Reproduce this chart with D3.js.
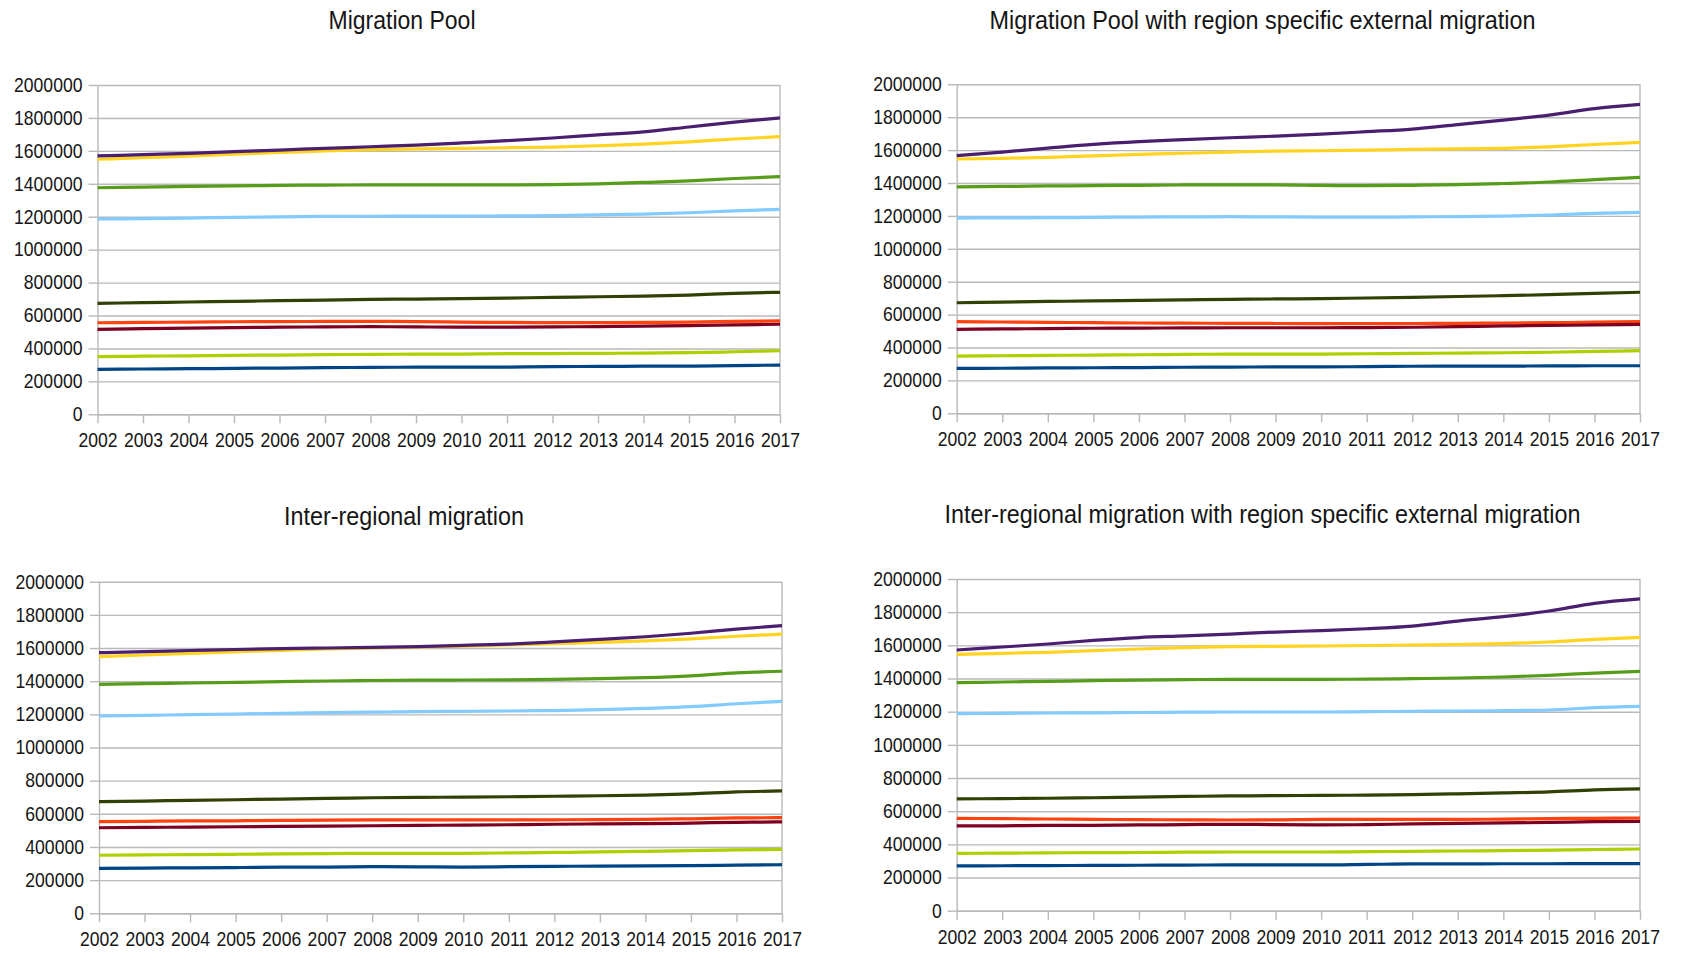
<!DOCTYPE html>
<html>
<head>
<meta charset="utf-8">
<script src="https://cdn.jsdelivr.net/npm/d3@7"></script>
<style>
  body { margin: 0; background: #fff; }
  svg { display: block; }
  text { font-family: "Liberation Sans", Arial, sans-serif; fill: #151515; }
</style>
</head>
<body>
<svg id="chart" width="1681" height="955"></svg>
<script>
// Years on the x axis
const years = [2002, 2003, 2004, 2005, 2006, 2007, 2008, 2009, 2010, 2011, 2012, 2013, 2014, 2015, 2016, 2017];

// Y axis tick values
const yTicks = [0, 200000, 400000, 600000, 800000, 1000000, 1200000, 1400000, 1600000, 1800000, 2000000];

// Series colours, in drawing order
const seriesColors = ["#004586", "#ff420e", "#ffd320", "#579d1c", "#7e0021", "#83caff", "#314004", "#aecf00", "#4b1f6f"];

// Panel titles
const titles = [
  "Migration Pool",
  "Migration Pool with region specific external migration",
  "Inter-regional migration",
  "Inter-regional migration with region specific external migration"
];

// Population per region, one row per series (same order as seriesColors)
const migrationPool = [
  [273000, 275000, 277000, 279000, 281000, 283000, 285000, 286000, 286000, 287000, 289000, 291000, 292000, 293000, 296000, 299000],
  [556000, 558000, 560000, 562000, 563000, 564000, 564000, 563000, 560000, 558000, 557000, 557000, 558000, 560000, 564000, 567000],
  [1549000, 1558000, 1568000, 1580000, 1590000, 1600000, 1608000, 1612000, 1615000, 1619000, 1623000, 1631000, 1641000, 1655000, 1672000, 1686000],
  [1376000, 1380000, 1384000, 1387000, 1390000, 1392000, 1393000, 1394000, 1393000, 1393000, 1395000, 1400000, 1408000, 1418000, 1432000, 1443000],
  [516000, 520000, 523000, 526000, 529000, 531000, 532000, 531000, 529000, 529000, 531000, 533000, 536000, 539000, 543000, 547000],
  [1186000, 1189000, 1192000, 1196000, 1199000, 1202000, 1203000, 1204000, 1204000, 1205000, 1207000, 1211000, 1216000, 1224000, 1236000, 1245000],
  [674000, 678000, 682000, 686000, 690000, 694000, 698000, 700000, 702000, 706000, 710000, 714000, 718000, 724000, 735000, 741000],
  [350000, 353000, 355000, 358000, 360000, 362000, 364000, 365000, 366000, 368000, 369000, 370000, 372000, 374000, 380000, 386000],
  [1569000, 1577000, 1585000, 1595000, 1605000, 1615000, 1625000, 1635000, 1648000, 1662000, 1678000, 1697000, 1715000, 1745000, 1775000, 1800000]
];

const migrationPoolExternal = [
  [273000, 274000, 276000, 277000, 278000, 280000, 281000, 282000, 282000, 284000, 286000, 287000, 287000, 288000, 289000, 289000],
  [557000, 555000, 553000, 551000, 549000, 548000, 547000, 546000, 545000, 545000, 546000, 547000, 549000, 551000, 554000, 557000],
  [1546000, 1550000, 1556000, 1565000, 1574000, 1581000, 1588000, 1594000, 1596000, 1600000, 1604000, 1607000, 1611000, 1620000, 1634000, 1647000],
  [1376000, 1379000, 1382000, 1384000, 1386000, 1388000, 1388000, 1388000, 1385000, 1384000, 1386000, 1390000, 1397000, 1406000, 1421000, 1434000],
  [510000, 513000, 515000, 517000, 518000, 519000, 520000, 520000, 520000, 521000, 523000, 527000, 531000, 534000, 537000, 541000],
  [1187000, 1188000, 1189000, 1191000, 1193000, 1194000, 1195000, 1194000, 1192000, 1192000, 1194000, 1196000, 1199000, 1205000, 1215000, 1222000],
  [672000, 676000, 680000, 683000, 686000, 690000, 693000, 695000, 697000, 701000, 705000, 710000, 715000, 721000, 729000, 736000],
  [348000, 350000, 352000, 354000, 356000, 358000, 360000, 360000, 360000, 362000, 364000, 366000, 368000, 371000, 376000, 381000],
  [1566000, 1588000, 1612000, 1635000, 1652000, 1664000, 1675000, 1685000, 1697000, 1712000, 1728000, 1755000, 1782000, 1813000, 1852000, 1878000]
];

const interRegional = [
  [271000, 273000, 274000, 276000, 278000, 279000, 281000, 280000, 279000, 281000, 283000, 285000, 286000, 287000, 290000, 293000],
  [553000, 555000, 557000, 558000, 560000, 562000, 563000, 563000, 563000, 563000, 564000, 565000, 567000, 570000, 575000, 577000],
  [1548000, 1558000, 1568000, 1577000, 1586000, 1594000, 1600000, 1606000, 1612000, 1619000, 1627000, 1634000, 1643000, 1655000, 1671000, 1684000],
  [1381000, 1385000, 1389000, 1393000, 1397000, 1401000, 1404000, 1406000, 1407000, 1408000, 1411000, 1415000, 1421000, 1432000, 1450000, 1460000],
  [516000, 518000, 520000, 522000, 524000, 526000, 528000, 530000, 532000, 534000, 537000, 539000, 541000, 544000, 549000, 551000],
  [1190000, 1194000, 1198000, 1202000, 1206000, 1210000, 1213000, 1216000, 1218000, 1220000, 1223000, 1228000, 1236000, 1246000, 1264000, 1278000],
  [673000, 677000, 681000, 685000, 689000, 693000, 697000, 699000, 701000, 703000, 706000, 709000, 713000, 720000, 732000, 738000],
  [350000, 352000, 354000, 356000, 358000, 360000, 362000, 362000, 362000, 364000, 367000, 370000, 374000, 378000, 382000, 386000],
  [1572000, 1578000, 1585000, 1591000, 1596000, 1600000, 1604000, 1609000, 1616000, 1624000, 1637000, 1652000, 1668000, 1689000, 1714000, 1735000]
];

const interRegionalExternal = [
  [270000, 271000, 272000, 273000, 274000, 275000, 276000, 276000, 276000, 279000, 282000, 282000, 283000, 283000, 284000, 284000],
  [557000, 555000, 553000, 551000, 549000, 548000, 547000, 548000, 551000, 551000, 551000, 551000, 552000, 555000, 557000, 559000],
  [1546000, 1552000, 1558000, 1568000, 1578000, 1586000, 1592000, 1594000, 1596000, 1599000, 1602000, 1605000, 1610000, 1620000, 1636000, 1648000],
  [1375000, 1379000, 1383000, 1387000, 1390000, 1393000, 1395000, 1395000, 1395000, 1396000, 1399000, 1403000, 1409000, 1419000, 1433000, 1443000],
  [511000, 512000, 514000, 515000, 517000, 519000, 521000, 519000, 517000, 519000, 523000, 526000, 529000, 532000, 537000, 539000],
  [1188000, 1190000, 1192000, 1193000, 1195000, 1197000, 1198000, 1198000, 1198000, 1200000, 1202000, 1204000, 1206000, 1210000, 1224000, 1232000],
  [674000, 676000, 678000, 681000, 685000, 689000, 692000, 694000, 695000, 697000, 700000, 705000, 710000, 716000, 728000, 734000],
  [346000, 347000, 349000, 350000, 351000, 353000, 354000, 354000, 354000, 356000, 358000, 360000, 362000, 365000, 369000, 372000],
  [1572000, 1590000, 1608000, 1630000, 1647000, 1657000, 1668000, 1680000, 1689000, 1700000, 1716000, 1746000, 1773000, 1807000, 1853000, 1880000]
];

// Panel layout: plot rectangle plus title placement
const panels = [
  { data: migrationPool,         title: titles[0], x0: 97.5,  x1: 780,  yTop: 85,    yBot: 414.3, tx: 402,    ty: 28.5,  tw: 147 },
  { data: migrationPoolExternal, title: titles[1], x0: 956.7, x1: 1640, yTop: 84.3,  yBot: 413.3, tx: 1262.5, ty: 28.5,  tw: 546 },
  { data: interRegional,         title: titles[2], x0: 99,    x1: 782,  yTop: 581.7, yBot: 913.3, tx: 404,    ty: 524.5, tw: 240 },
  { data: interRegionalExternal, title: titles[3], x0: 956.7, x1: 1640, yTop: 579,   yBot: 910.7, tx: 1262.5, ty: 522.5, tw: 636 }
];

const svg = d3.select("#chart");
const gridColor = "#b9b9b9";
const stretch = 1.12;       // glyphs are drawn slightly taller than wide
const tickFont = 17.6;

panels.forEach(p => {
  const x = d3.scalePoint().domain(years).range([p.x0, p.x1]);
  const y = d3.scaleLinear().domain([0, 2000000]).range([p.yBot, p.yTop]);
  const g = svg.append("g");

  // Horizontal gridlines
  g.append("g")
    .attr("transform", `translate(${p.x0},0)`)
    .call(d3.axisLeft(y).tickValues(yTicks).tickSize(-(p.x1 - p.x0)).tickFormat(""))
    .call(a => a.select(".domain").remove())
    .call(a => a.selectAll("line").attr("stroke", gridColor).attr("stroke-width", 1.4));

  // Right border of the plot area
  g.append("line")
    .attr("x1", p.x1).attr("x2", p.x1).attr("y1", p.yTop).attr("y2", p.yBot)
    .attr("stroke", gridColor).attr("stroke-width", 1.4);

  // Y axis
  g.append("g")
    .attr("transform", `translate(${p.x0},0)`)
    .call(d3.axisLeft(y).tickValues(yTicks).tickSize(9).tickSizeOuter(0).tickPadding(6).tickFormat(d3.format("d")))
    .call(a => a.select(".domain").attr("stroke", gridColor).attr("stroke-width", 1.4))
    .call(a => a.selectAll("line").attr("stroke", gridColor).attr("stroke-width", 1.4))
    .call(a => a.selectAll("text")
      .attr("font-size", tickFont)
      .attr("font-family", '"Liberation Sans", Arial, sans-serif')
      .attr("fill", "#151515")
      .attr("transform", `scale(1,${stretch})`));

  // X axis
  g.append("g")
    .attr("transform", `translate(0,${p.yBot})`)
    .call(d3.axisBottom(x).tickSize(9).tickSizeOuter(0).tickFormat(d3.format("d")))
    .call(a => a.select(".domain").attr("stroke", gridColor).attr("stroke-width", 1.4))
    .call(a => a.selectAll("line").attr("stroke", gridColor).attr("stroke-width", 1.4))
    .call(a => a.selectAll("text")
      .attr("font-size", tickFont)
      .attr("font-family", '"Liberation Sans", Arial, sans-serif')
      .attr("fill", "#151515")
      .attr("y", 29.5).attr("dy", 0)
      .attr("transform", `scale(1,${stretch})`));

  // Series lines
  const line = d3.line()
    .x((d, i) => x(years[i]))
    .y(d => y(d))
    .curve(d3.curveMonotoneX);

  g.append("g").selectAll("path")
    .data(p.data)
    .join("path")
    .attr("d", line)
    .attr("fill", "none")
    .attr("stroke", (d, i) => seriesColors[i])
    .attr("stroke-width", 3.2)
    .attr("stroke-linejoin", "round");

  // Title
  svg.append("text")
    .attr("transform", `translate(${p.tx},${p.ty}) scale(1,1.08)`)
    .attr("text-anchor", "middle")
    .attr("font-size", 23.3)
    .attr("textLength", p.tw)
    .attr("lengthAdjust", "spacingAndGlyphs")
    .text(p.title);
});
</script>
</body>
</html>
